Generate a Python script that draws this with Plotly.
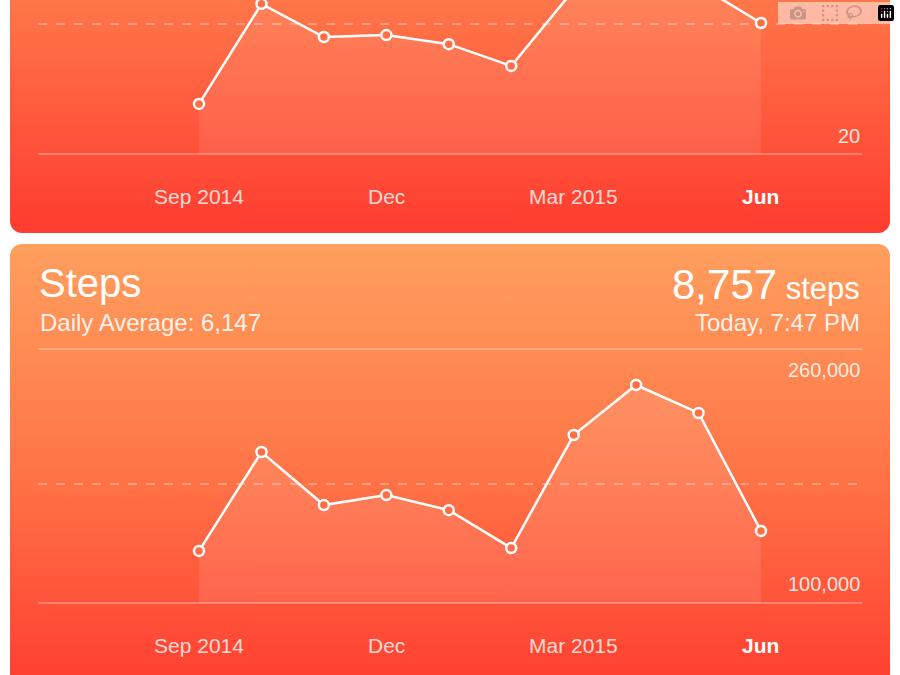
import plotly.graph_objects as go
import base64

months = ["Sep 2014","Oct","Nov","Dec","Jan","Feb","Mar 2015","Apr","May","Jun"]
tick_idx = [0, 3, 6, 9]
tick_labels = ["Sep 2014", "Dec", "Mar 2015", "Jun"]
steps = [132800, 195100, 161700, 168000, 158500, 134600, 205800, 237300, 219700, 145400]
top_vals = [35.4, 66.2, 56.0, 56.6, 53.8, 47.1, 70.5, 78.2, 72.0, 60.3]

W, H = 900, 675
def py(p): return 1 - p / H

svg = f'''<svg xmlns="http://www.w3.org/2000/svg" width="{W}" height="{H}" viewBox="0 0 {W} {H}">
<defs>
<linearGradient id="g1" x1="0" y1="0" x2="0" y2="1"><stop offset="0" stop-color="#FF7E4C"/><stop offset="1" stop-color="#FF3C30"/></linearGradient>
<linearGradient id="g2" x1="0" y1="0" x2="0" y2="1"><stop offset="0" stop-color="#FF9F5E"/><stop offset="0.5" stop-color="#FF7447"/><stop offset="1" stop-color="#FF3A2E"/></linearGradient>
</defs>
<rect x="0" y="0" width="{W}" height="{H}" fill="white"/>
<rect x="10" y="-30" width="880" height="263" rx="12" fill="url(#g1)"/>
<rect x="10" y="244" width="880" height="460" rx="12" fill="url(#g2)"/>
</svg>'''
src = "data:image/svg+xml;base64," + base64.b64encode(svg.encode()).decode()

fig = go.Figure()
xr = [-199/62.44, 9 + (900-761)/62.44]
idx = list(range(len(months)))
mk = dict(size=10, color="#FF6E45", line=dict(color="white", width=2.5))
fig.add_trace(go.Scatter(x=idx, y=top_vals, mode="lines+markers", line=dict(color="white", width=2.5),
                         marker=mk, fill="tozeroy", fillcolor="rgba(255,255,255,0.09)", xaxis="x", yaxis="y"))
fig.add_trace(go.Scatter(x=idx, y=steps, mode="lines+markers", line=dict(color="white", width=2.5),
                         marker=mk, fill="tozeroy", fillcolor="rgba(255,255,255,0.1)", xaxis="x2", yaxis="y2"))

ax = dict(visible=False, fixedrange=True)
fig.update_layout(
    width=W, height=H, margin=dict(l=0, r=0, t=0, b=0), showlegend=False,
    paper_bgcolor="white", plot_bgcolor="rgba(0,0,0,0)",
    xaxis=dict(ax, range=xr, domain=[0, 1]),
    yaxis=dict(ax, range=[20, 20 + 154/3.25], domain=[py(154), 1]),
    xaxis2=dict(ax, range=xr, domain=[0, 1], anchor="y2"),
    yaxis2=dict(ax, range=[100000, 260000], domain=[py(603), py(349)], anchor="x2"),
    images=[dict(source=src, xref="paper", yref="paper", x=0, y=1, sizex=1, sizey=1,
                 sizing="stretch", layer="below", xanchor="left", yanchor="top")],
)

def hline(y, dash="solid", op=0.55):
    fig.add_shape(type="line", xref="paper", yref="paper", x0=38/W, x1=862/W, y0=py(y), y1=py(y),
                  line=dict(color=f"rgba(255,255,255,{op})", width=1, dash=dash), layer="below")
hline(154); hline(24, "dash", 0.6)
hline(349); hline(484, "dash", 0.6); hline(603)

F = "Liberation Sans, Helvetica, Arial"
def txt(x, y, t, size, xa="left", op=1.0):
    fig.add_annotation(x=x/W, y=py(y), xref="paper", yref="paper", text=t, showarrow=False,
                       xanchor=xa, yanchor="middle", font=dict(family=F, size=size, color=f"rgba(255,255,255,{op})"))

for i, lab in zip(tick_idx, tick_labels):
    xpx = 199 + i * 62.44
    t = f"<b>{lab}</b>" if lab == "Jun" else lab
    op = 1.0 if lab == "Jun" else 0.8
    txt(xpx, 196, t, 21, "center", op)
    txt(xpx, 645, t, 21, "center", op)

txt(862, 136, "20", 20, "right", 0.85)
txt(862, 370, "260,000", 20, "right", 0.85)
txt(862, 584, "100,000", 20, "right", 0.85)
txt(37, 283, "Steps", 40)
txt(38, 322, "Daily Average: 6,147", 24, "left", 0.9)
txt(862, 284, "8,757<span style='font-size:31px'> steps</span>", 42, "right")
txt(862, 322, "Today, 7:47 PM", 24, "right", 0.9)

fig.write_html("out.html", post_script="document.body.style.margin='0';document.body.style.overflow='hidden';")
